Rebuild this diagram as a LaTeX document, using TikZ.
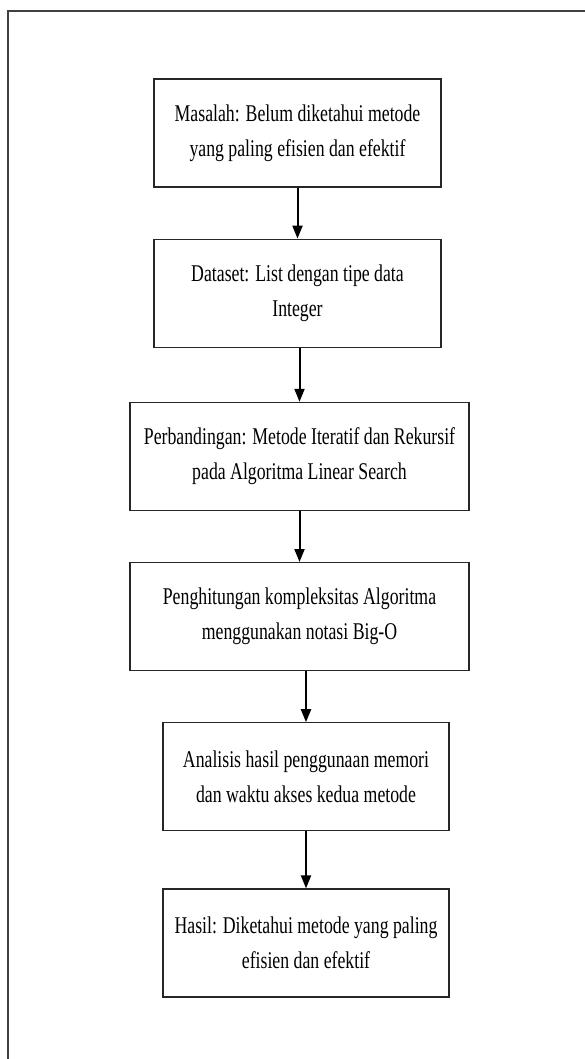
\documentclass[tikz,border=0pt]{standalone}
\usepackage{fontspec}
\setmainfont{Liberation Serif}[FakeStretch=0.74]
\usetikzlibrary{positioning, arrows.meta}
\tikzstyle{stepbox} = [rectangle, minimum height=108pt, inner sep=0pt, text centered, align=center, draw=black!85, line width=1.2pt, font=\fontsize{24}{35}\selectfont]
\tikzstyle{arrow} = [line width=2pt, draw=black, -{Triangle[length=13pt,width=10pt]}]
\tikzstyle{frame} = [line width=1.8pt, draw=black!75]

\begin{document}
\begin{tikzpicture}[node distance=51pt]
\useasboundingbox (0,0) rectangle (585pt,-1059pt);
\draw[frame] (585pt,-11pt) -- (8pt,-11pt) -- (8pt,-1059pt);

\node (masalah) [stepbox, minimum width=287pt] at (297.5pt,-133pt) {Masalah: Belum diketahui metode\\yang paling efisien dan efektif};
\node (dataset) [stepbox, minimum width=287pt, below=of masalah] {Dataset: List dengan tipe data\\Integer};
\node (banding) [stepbox, minimum width=339pt, below=54pt of dataset, xshift=2pt] {Perbandingan: Metode Iteratif dan Rekursif\\pada Algoritma Linear Search};
\node (hitung) [stepbox, minimum width=339pt, below=of banding] {Penghitungan kompleksitas Algoritma\\menggunakan notasi Big-O};
\node (analisis) [stepbox, minimum width=286pt, below=of hitung, xshift=6.5pt] {Analisis hasil penggunaan memori\\dan waktu akses kedua metode};
\node (hasil) [stepbox, minimum width=286pt, below=57pt of analisis] {Hasil: Diketahui metode yang paling\\efisien dan efektif};

\draw[arrow] (masalah) -- (dataset);
\draw[arrow] (dataset.south -| banding) -- (banding);
\draw[arrow] (banding) -- (hitung);
\draw[arrow] (hitung.south -| analisis) -- (analisis);
\draw[arrow] (analisis) -- (hasil);
\end{tikzpicture}
\end{document}
